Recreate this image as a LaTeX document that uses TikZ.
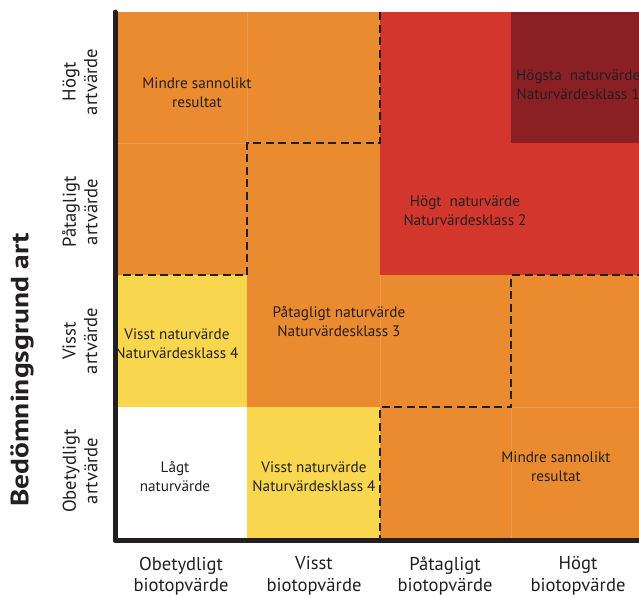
\documentclass[tikz,border=0pt]{standalone}
\usepackage{fontspec}
\setmainfont{PT Sans}
\definecolor{cOrange}{HTML}{E98B2E}
\definecolor{cRed}{HTML}{D2362D}
\definecolor{cDark}{HTML}{8A1F24}
\definecolor{cYellow}{HTML}{F8D74F}
\definecolor{cText}{HTML}{231F20}
\begin{document}
\begin{tikzpicture}[x=1pt,y=-1pt,
  celltext/.style={align=center, text=cText, inner sep=0pt, font=\fontsize{15.2}{19}\selectfont},
  ticktext/.style={align=center, text=cText, inner sep=0pt, font=\fontsize{18.6}{21.5}\selectfont},
  dashline/.style={draw=cText, line width=2.6pt, dash pattern=on 8pt off 4.5pt},
  gridline/.style={draw=white, opacity=0.15, line width=0.8pt},
  axisline/.style={draw=cText, line width=5pt, line cap=round, line join=round}]
\useasboundingbox (0,0) rectangle (639,597);
\begin{scope}
\clip (0,0) rectangle (639,597);
% cells
\fill[cOrange] (118,12) rectangle (645,538);
\fill[cRed] (380,12) rectangle (645,275);
\fill[cDark] (511,12) rectangle (645,143);
\fill[cYellow] (118,275) rectangle (247,407);
\fill[cYellow] (247,407) rectangle (380,538);
\fill[white] (118,407) rectangle (247,538);
% faint cell borders (orange areas only)
\draw[gridline] (247,12) -- (247,143) (118,143) -- (247,143)
                (380,275) -- (380,407) (511,407) -- (511,538) (511,407) -- (645,407);
% dashed class borders
\draw[dashline] (380,12) -- (380,143) -- (247,143) -- (247,275) -- (118,275);
\draw[dashline] (645,275) -- (511,275) -- (511,407) -- (380,407) -- (380,538);
% axes
\draw[axisline] (115,12) -- (115,540.5) -- (645,540.5);
% cell texts
\node[celltext] (t11) at (197,93) {Mindre sannolikt\\resultat};
\node[celltext, anchor=west] (t14) at (516,85) {Högsta\ \ naturvärde\\Naturvärdesklass 1};
\node[celltext] (t23) at (465,211) {Högt\ \ naturvärde\\Naturvärdesklass 2};
\node[celltext] (t31) at (177,344) {Visst naturvärde\\Naturvärdesklass 4};
\node[celltext] (t32) at (339,322) {Påtagligt naturvärde\\Naturvärdesklass 3};
\node[celltext] (t41) at (175,477) {Lågt\\naturvärde};
\node[celltext] (t42) at (314,477) {Visst naturvärde\\Naturvärdesklass 4};
\node[celltext] (t44) at (556,467) {Mindre sannolikt\\resultat};
\end{scope}
% y tick labels
\node[ticktext, rotate=90] (y1) at (80,82) {Högt\\artvärde};
\node[ticktext, rotate=90] (y2) at (80,212) {Påtagligt\\artvärde};
\node[ticktext, rotate=90] (y3) at (80,341) {Visst\\artvärde};
\node[ticktext, rotate=90] (y4) at (80,471) {Obetydligt\\artvärde};
% x tick labels
\node[ticktext] (x1) at (181,576) {Obetydligt\\biotopvärde};
\node[ticktext] (x2) at (314,576) {Visst\\biotopvärde};
\node[ticktext] (x3) at (445,576) {Påtagligt\\biotopvärde};
\node[ticktext] (x4) at (578,576) {Högt\\biotopvärde};
% axis title
\node[text=cText, rotate=90, inner sep=0pt, font=\fontsize{25}{28}\selectfont\bfseries] (ytitle) at (22,370) {\scalebox{1.18}[1]{Bedömningsgrund art}};
\end{tikzpicture}
\end{document}
